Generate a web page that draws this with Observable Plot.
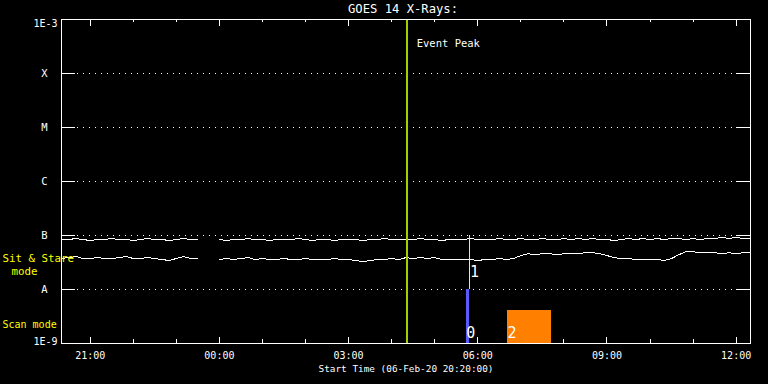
<!DOCTYPE html>
<html><head><meta charset="utf-8">
<script src="https://cdn.jsdelivr.net/npm/d3@7"></script>
<script src="https://cdn.jsdelivr.net/npm/@observablehq/plot@0.6"></script>
<style>
html,body{margin:0;padding:0;background:#000;overflow:hidden;}
#chart svg{display:block;}
</style></head><body><div id="chart"></div>
<script>
// ---------- data ----------
const chartTitle = "GOES 14 X-Rays:";
const xAxisTitle = "Start Time (06-Feb-20 20:20:00)";
const startTime = new Date(Date.UTC(2020, 1, 6, 20, 20));
const endTime = new Date(Date.UTC(2020, 1, 7, 12, 20));
const sampleMinutes = 10;           // cadence of the two flux series
const fluxUnit = 1e-8;              // series below are in units of 1e-8 W/m^2

// upper trace (20:20 … 12:20, every 10 min; null = data gap)
const upperFlux = [
  8.4,8.4,8.8,8.4,8.1,8.4,
  8.4,8.8,8.4,8.4,8.1,8.4,
  8.8,8.4,8.4,8.1,8.4,8.8,
  8.4,8.4,null,null,8.4,8.1,
  8.4,8.4,8.8,8.4,8.4,8.1,
  8.4,8.4,8.4,8.8,8.4,8.1,
  8.4,8.4,8.1,8.4,8.4,8.4,
  8.1,8.4,8.4,8.8,8.4,8.4,
  8.4,8.4,8.8,8.4,8.4,8.1,
  8.4,8.4,8.4,8.8,8.4,8.4,
  8.4,8.8,8.4,8.4,8.8,8.4,
  8.4,8.8,8.4,8.4,8.8,8.4,
  8.8,8.4,8.8,8.4,8.4,8.1,
  8.4,8.8,8.4,8.8,8.4,8.8,
  8.4,8.8,8.8,8.4,8.8,8.4,
  8.8,8.8,9.2,8.8,9.2,8.8,
  9.0
];
// lower trace
const lowerFlux = [
  3.75,3.9,4.08,3.75,3.75,3.9,
  3.75,3.75,3.9,4.08,3.75,3.75,
  3.9,3.75,3.59,3.44,3.75,4.08,
  3.75,3.75,null,null,3.59,3.75,
  3.59,3.75,3.9,3.59,3.75,3.59,
  3.59,3.75,3.59,3.59,3.75,3.59,
  3.59,3.59,3.75,3.59,3.59,3.44,
  3.3,3.44,3.59,3.59,3.75,3.59,
  3.9,3.75,3.9,3.75,3.9,3.59,
  3.59,3.59,3.59,3.59,3.44,3.59,
  3.59,3.75,3.59,3.75,4.25,4.6,
  4.4,4.6,4.6,4.4,4.6,4.6,
  4.6,4.8,4.8,4.6,4.25,3.9,
  3.75,3.75,3.59,3.59,3.59,3.59,
  3.44,3.75,4.4,5.0,5.0,4.8,
  4.8,4.8,4.6,4.8,4.6,4.8,
  4.8
];

// GOES class levels
const classValues = [1e-8, 1e-7, 1e-6, 1e-5, 1e-4];
const classLabels = ["A", "B", "C", "M", "X"];
const bottomLabel = "1E-9", bottomValue = 1e-9;
const topLabel = "1E-3", topValue = 1e-3;

// event peak
const eventPeakTime = new Date(Date.UTC(2020, 1, 7, 4, 21));
const eventPeakLabel = "Event Peak";

// observations
const obsLabels = ["0", "1", "2"];
const obsStart = [new Date(Date.UTC(2020,1,7,5,44)), new Date(Date.UTC(2020,1,7,5,49)), new Date(Date.UTC(2020,1,7,6,41,30))];
const obsEnd   = [new Date(Date.UTC(2020,1,7,5,48,15)), new Date(Date.UTC(2020,1,7,5,49)), new Date(Date.UTC(2020,1,7,7,42,20))];
const obsLow   = [1e-9, 1e-8, 1e-9];
const obsHigh  = [1e-8, 1e-7, 4.1e-9];

const modeLabels = ["Sit & Stare", "mode", "Scan mode"];

// x ticks
const majorTickTimes = d3.utcHour.every(3).range(startTime, endTime);
const minorTickTimes = d3.utcHour.every(1).range(startTime, endTime);

// ---------- build ----------
const times = d3.utcMinute.every(sampleMinutes).range(startTime, new Date(+endTime + 1));
const series = times.map((t, i) => ({
  t,
  up: upperFlux[i] == null ? null : upperFlux[i] * fluxUnit,
  lo: lowerFlux[i] == null ? null : lowerFlux[i] * fluxUnit
}));
const obs = obsLabels.map((l, i) => ({label: l, x1: obsStart[i], x2: obsEnd[i], y1: obsLow[i], y2: obsHigh[i]}));

const W = 768, H = 384, mL = 61, mR = 18, mT = 19, mB = 41;
const fw = W - mL - mR, fh = H - mT - mB;
const white = "#ffffff";
const crisp = {shapeRendering: "crispEdges"};

const chart = Plot.plot({
  width: W, height: H,
  marginLeft: mL, marginRight: mR, marginTop: mT, marginBottom: mB,
  style: {background: "#000", color: white, fontFamily: "DejaVu Sans Mono", fontSize: "10px"},
  x: {type: "utc", domain: [startTime, endTime], axis: null},
  y: {type: "log", domain: [bottomValue, topValue], axis: null},
  marks: [
    // dotted class gridlines + solid ticks both sides
    Plot.ruleY(classValues, {stroke: white, strokeDasharray: "1,5", insetLeft: 16, insetRight: 14, ...crisp}),
    Plot.ruleY(classValues, {stroke: white, insetRight: fw - 14, ...crisp}),
    Plot.ruleY(classValues, {stroke: white, insetLeft: fw - 14, ...crisp}),
    // time ticks (inward), bottom and top
    Plot.ruleX(minorTickTimes, {stroke: white, insetTop: fh - 4, ...crisp}),
    Plot.ruleX(majorTickTimes, {stroke: white, insetTop: fh - 6, ...crisp}),
    Plot.ruleX(minorTickTimes, {stroke: white, insetBottom: fh - 3, ...crisp}),
    Plot.ruleX(majorTickTimes, {stroke: white, insetBottom: fh - 7, ...crisp}),
    // flux traces
    Plot.line(series, {x: "t", y: "up", stroke: white, strokeWidth: 1, ...crisp}),
    Plot.line(series, {x: "t", y: "lo", stroke: white, strokeWidth: 1, ...crisp}),
    // observations
    Plot.rectY([obs[0]], {x1: "x1", x2: "x2", y1: "y1", y2: "y2", fill: "#5a5aff", ...crisp}),
    Plot.rectY([obs[2]], {x1: "x1", x2: "x2", y1: "y1", y2: "y2", fill: "#ff8000", ...crisp}),
    Plot.ruleX([obs[1]], {x: "x1", y1: "y1", y2: "y2", stroke: "#ffff00", strokeWidth: 1, ...crisp}),
    Plot.text([obs[0], obs[2]], {x: "x1", text: "label", frameAnchor: "bottom", textAnchor: "start", lineAnchor: "middle", dy: -10.5, fontSize: 15, fill: white}),
    Plot.text([obs[1]], {x: "x1", text: "label", frameAnchor: "bottom", textAnchor: "start", lineAnchor: "middle", dy: -71, fontSize: 15, fill: white}),
    // event peak
    Plot.ruleX([eventPeakTime], {stroke: "#a0d000", strokeWidth: 2, ...crisp}),
    Plot.text([eventPeakLabel], {x: [eventPeakTime], frameAnchor: "top", textAnchor: "start", lineAnchor: "middle", dx: 10, dy: 24, fontSize: 10.5, fill: white}),
    // frame
    Plot.frame({stroke: white, ...crisp}),
    // y labels
    Plot.text(classLabels, {y: classValues, frameAnchor: "left", textAnchor: "middle", lineAnchor: "middle", dx: -17, fontSize: 10.5, fill: white}),
    Plot.text([topLabel], {y: [topValue], frameAnchor: "left", textAnchor: "end", lineAnchor: "top", dx: -4, dy: 0, fontSize: 10, fill: white}),
    Plot.text([bottomLabel], {y: [bottomValue], frameAnchor: "left", textAnchor: "end", lineAnchor: "bottom", dx: -4, dy: 1, fontSize: 10, fill: white}),
    // x labels
    Plot.text(majorTickTimes, {x: d => d, text: d3.utcFormat("%H:%M"), frameAnchor: "bottom", lineAnchor: "middle", dy: 12, fontSize: 10, fill: white}),
    Plot.text([xAxisTitle], {frameAnchor: "bottom", lineAnchor: "middle", dy: 25, fontSize: 9.4, fill: white}),
    Plot.text([chartTitle], {frameAnchor: "top", lineAnchor: "middle", dx: -3, dy: -10, fontSize: 12.2, fill: white}),
    // mode labels (yellow)
    Plot.text([modeLabels[0]], {frameAnchor: "bottom-left", textAnchor: "start", lineAnchor: "middle", dx: -59, dy: -84.5, fontSize: 10.8, fill: "#ffff00"}),
    Plot.text([modeLabels[1]], {frameAnchor: "bottom-left", textAnchor: "middle", lineAnchor: "middle", dx: -37, dy: -72, fontSize: 10.8, fill: "#ffff00"}),
    Plot.text([modeLabels[2]], {frameAnchor: "bottom-left", textAnchor: "start", lineAnchor: "middle", dx: -59, dy: -19, fontSize: 10, fill: "#ffff00"})
  ]
});
document.getElementById("chart").appendChild(chart);
</script></body></html>
